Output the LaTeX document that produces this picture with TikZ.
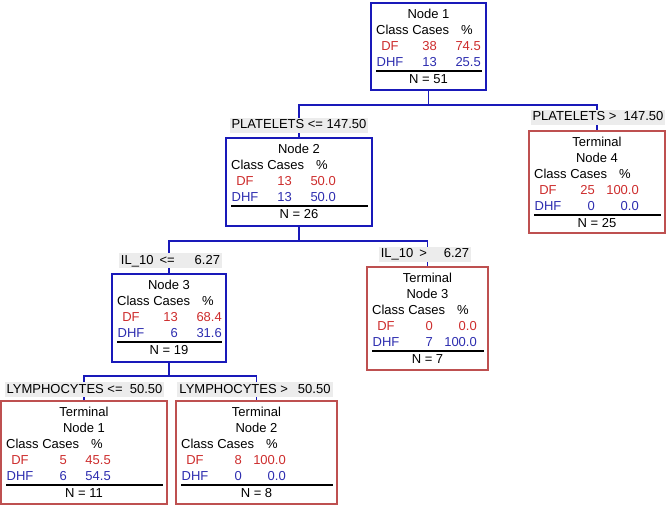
\documentclass[tikz,border=0pt]{standalone}
\usepackage{fontspec}
\setmainfont{Liberation Sans}
\definecolor{treeblue}{RGB}{25,25,185}
\definecolor{termred}{RGB}{190,80,80}
\definecolor{dfred}{RGB}{205,45,45}
\definecolor{dhfblue}{RGB}{45,45,175}
\definecolor{labgray}{RGB}{236,236,236}
\newcommand\cartrows[9]{%
  \node[txt,anchor=base west] (#1cls) at (#2+5,#3+4.7) {Class Cases};
  \node[txt] (#1pc) at (#2+96,#3+4.7) {\%};
  \node[txt,text=dfred] (#1df) at (#2+19,#3+20.7) {DF};
  \node[txt,text=dfred,anchor=base east] (#1dfc) at (#2+66,#3+20.7) {#5};
  \node[txt,text=dfred,anchor=base east] (#1dfp) at (#2+110,#3+20.7) {#6};
  \node[txt,text=dhfblue] (#1dhf) at (#2+19,#3+36.7) {DHF};
  \node[txt,text=dhfblue,anchor=base east] (#1dhfc) at (#2+66,#3+36.7) {#7};
  \node[txt,text=dhfblue,anchor=base east] (#1dhfp) at (#2+110,#3+36.7) {#8};
  \draw[rulel] (#2+5,#3+41) -- (#4-4,#3+41);
  \node[txt] (#1n) at ({(#2+#4)/2},#3+53.7) {N = #9};
}
\begin{document}
\begin{tikzpicture}[x=1pt,y=-1pt,
  txt/.style={font=\fontsize{13}{15}\selectfont, inner sep=0pt, anchor=base},
  inbox/.style={draw=treeblue, line width=1.8pt, inner sep=0pt},
  termbox/.style={draw=termred, line width=1.3pt, inner sep=0pt},
  conn/.style={draw=treeblue, line width=1.8pt},
  rulel/.style={draw=black, line width=1.1pt},
  lab/.style={fill=labgray, font=\fontsize{13}{15}\selectfont, inner xsep=2pt, inner ysep=1.5pt, text height=9.5pt, text depth=2.5pt}]
\useasboundingbox (0,0) rectangle (672,507);
% boxes
\node[inbox, minimum width=115pt, minimum height=87pt] (n1) at (428.5,46.5) {};
\node[inbox, minimum width=146pt, minimum height=88pt] (n2) at (299,182) {};
\node[termbox, minimum width=136pt, minimum height=102pt] (t4) at (597,182) {};
\node[inbox, minimum width=114pt, minimum height=88pt] (n3) at (169,318) {};
\node[termbox, minimum width=121pt, minimum height=103pt] (t3) at (427.5,318.5) {};
\node[termbox, minimum width=166pt, minimum height=103pt] (t1) at (84,452.5) {};
\node[termbox, minimum width=161pt, minimum height=103pt] (t2) at (256.5,452.5) {};
% connectors
\coordinate (s1) at (428.5,105);
\coordinate (s2) at (299,241);
\coordinate (s3) at (169,376);
\draw[conn] (n1.south) -- (s1);
\draw[conn] (n2.north) |- (s1) -| (t4.north);
\draw[conn] (n2.south) -- (s2);
\draw[conn] (n3.north) |- (s2) -| (t3.north);
\draw[conn] (n3.south) -- (s3);
\draw[conn] (t1.north) |- (s3) -| (t2.north);
% split labels
\node[lab] (l2) at (299,125) {PLATELETS <= 147.50};
\node[lab] (l4) at (598,117) {PLATELETS >\ \ 147.50};
\node[lab] (l3) at (170.5,260.5) {IL\_10\hspace{6pt}<=\hspace{20pt}6.27};
\node[lab] (l5) at (425,254) {IL\_10\hspace{6pt}>\hspace{17pt}6.27};
\node[lab] (l6) at (84.5,389.5) {LYMPHOCYTES <=\ \ 50.50};
\node[lab] (l7) at (255,389.5) {LYMPHOCYTES >\hspace{10pt}50.50};
% node 1
\node[txt] (n1a) at (428.5,18.7) {Node 1};
\cartrows{n1}{371}{30}{486}{38}{74.5}{13}{25.5}{51}
% node 2
\node[txt] (n2a) at (299,153.7) {Node 2};
\cartrows{n2}{226}{165}{372}{13}{50.0}{13}{50.0}{26}
% node 3
\node[txt] (n3a) at (169,289.7) {Node 3};
\cartrows{n3}{112}{301}{226}{13}{68.4}{6}{31.6}{19}
% terminal 4
\node[txt] (t4a) at (597,146.7) {Terminal};
\node[txt] (t4b) at (597,162.7) {Node 4};
\cartrows{t4}{529}{174}{665}{25}{100.0}{0}{0.0}{25}
% terminal 3
\node[txt] (t3a) at (427.5,282.7) {Terminal};
\node[txt] (t3b) at (427.5,298.7) {Node 3};
\cartrows{t3}{367}{310}{488}{0}{0.0}{7}{100.0}{7}
% terminal 1
\node[txt] (t1a) at (84,416.7) {Terminal};
\node[txt] (t1b) at (84,432.7) {Node 1};
\cartrows{t1}{1}{444}{167}{5}{45.5}{6}{54.5}{11}
% terminal 2
\node[txt] (t2a) at (256.5,416.7) {Terminal};
\node[txt] (t2b) at (256.5,432.7) {Node 2};
\cartrows{t2}{176}{444}{337}{8}{100.0}{0}{0.0}{8}
\end{tikzpicture}
\end{document}
